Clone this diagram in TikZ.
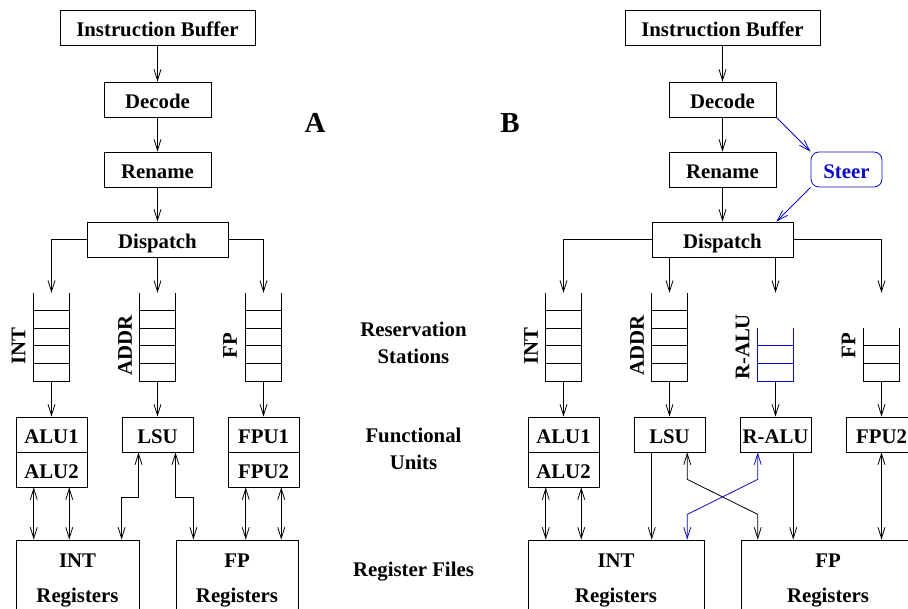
\documentclass[tikz,border=0pt]{standalone}
\usepackage{fontspec}
\setmainfont{Liberation Serif}
\usetikzlibrary{arrows.meta,calc}
\definecolor{stblue}{RGB}{10,10,200}
\newcommand\dfont{\fontsize{20.8}{24}\selectfont\bfseries}
\newcommand\rsq[4]{%
  \node[qnode] (#1) at (#2,337) {};
  \draw[qline,#4] (#2-18,{381-17.6*#3}) -- (#2-18,381) -- (#2+18,381) -- (#2+18,{381-17.6*#3});
  \pgfmathtruncatemacro\nlines{#3-1}
  \foreach \k in {1,...,\nlines}{\draw[qline,#4] (#2-18,{381-17.6*\k}) -- (#2+18,{381-17.6*\k});}
}
\tikzset{
  box/.style={draw, line width=0.8pt, inner sep=0pt, minimum height=35pt, text height=18pt, text depth=0pt, font=\dfont},
  lbl/.style={inner sep=0pt, font=\dfont},
  qnode/.style={inner sep=0pt, minimum width=36pt, minimum height=88pt},
  qline/.style={line width=0.8pt},
  arr/.style={line width=0.8pt, -{Straight Barb[length=11pt,width=7pt]}},
  dbl/.style={line width=0.8pt, {Straight Barb[length=11pt,width=7pt]}-{Straight Barb[length=11pt,width=7pt]}},
}
\begin{document}
\begin{tikzpicture}[x=1pt,y=-1pt]
\useasboundingbox (0,0) rectangle (908,609);
\clip (0,0) rectangle (908,609);

% ================= Panel A =================
\node[box, minimum width=195pt] (ibA) at (157.5,27.5) {Instruction Buffer};
\node[box, minimum width=107pt] (decA) at (157.5,99.5) {Decode};
\node[box, minimum width=107pt] (renA) at (157.5,169.5) {Rename};
\node[box, minimum width=141pt] (disA) at (157.5,239.5) {Dispatch};
\draw[arr] (ibA) -- (decA);
\draw[arr] (decA) -- (renA);
\draw[arr] (renA) -- (disA);

\rsq{qA1}{51.5}{5}{black}
\rsq{qA2}{157.5}{5}{black}
\rsq{qA3}{263.5}{5}{black}
\draw[arr] (disA.west) -| (qA1.north);
\draw[arr] (disA.south) -- (qA2.north);
\draw[arr] (disA.east) -| (qA3.north);

\node[lbl, rotate=90] (lA1) at (18.5,346.5) {INT};
\node[lbl, rotate=90] (lA2) at (125,345.5) {ADDR};
\node[lbl, rotate=90] (lA3) at (230,346) {FP};

\node[box, minimum width=71pt] (alu1A) at (51.5,434.5) {ALU1};
\node[box, minimum width=71pt] (alu2A) at (51.5,469.5) {ALU2};
\node[box, minimum width=71pt] (lsuA) at (157.5,434.5) {LSU};
\node[box, minimum width=71pt] (fpu1A) at (263.5,434.5) {FPU1};
\node[box, minimum width=71pt] (fpu2A) at (263.5,469.5) {FPU2};
\draw[arr] (qA1.south) -- (alu1A.north);
\draw[arr] (qA2.south) -- (lsuA.north);
\draw[arr] (qA3.south) -- (fpu1A.north);

\node[box, minimum width=123pt, minimum height=80pt] (irA) at (77.5,580) {};
\node[box, minimum width=122pt, minimum height=80pt] (frA) at (237,580) {};
\node[lbl, anchor=base] (irAt) at (77.5,567) {INT};
\node[lbl, anchor=base] (irAr) at (77.5,602) {Registers};
\node[lbl, anchor=base] (frAt) at (237,567) {FP};
\node[lbl, anchor=base] (frAr) at (237,602) {Registers};

\draw[dbl] ($(alu2A.south)+(-17.75,0)$) -- ($(irA.north -| alu2A.south)+(-17.75,0)$);
\draw[dbl] ($(alu2A.south)+(17.75,0)$) -- ($(irA.north -| alu2A.south)+(17.75,0)$);
\draw[dbl] ($(lsuA.south)+(-19,0)$) -- ++(0,44.5) -| (irA.north -| lsuA.west);
\draw[dbl] ($(lsuA.south)+(18,0)$) -- ++(0,44.5) -| (frA.north -| lsuA.east);
\draw[dbl] ($(fpu2A.south)+(-17.75,0)$) -- ($(frA.north -| fpu2A.south)+(-17.75,0)$);
\draw[dbl] ($(fpu2A.south)+(17.75,0)$) -- ($(frA.north -| fpu2A.south)+(17.75,0)$);

% ================= Middle labels =================
\node[lbl, anchor=base, font=\fontsize{29}{34}\selectfont\bfseries] (labA) at (315,133) {A};
\node[lbl, anchor=base, font=\fontsize{29}{34}\selectfont\bfseries] (labB) at (510,133) {B};
\node[lbl, anchor=base] (mRes) at (413.5,337) {Reservation};
\node[lbl, anchor=base] (mSta) at (413.5,363.5) {Stations};
\node[lbl, anchor=base] (mFun) at (413.5,442.5) {Functional};
\node[lbl, anchor=base] (mUni) at (413.5,470) {Units};
\node[lbl, anchor=base] (mReg) at (413.5,576.5) {Register Files};

% ================= Panel B =================
\node[box, minimum width=195pt] (ibB) at (722.5,27.5) {Instruction Buffer};
\node[box, minimum width=107pt] (decB) at (722.5,99.5) {Decode};
\node[box, minimum width=107pt] (renB) at (722.5,169.5) {Rename};
\node[box, minimum width=141pt] (disB) at (722.5,239.5) {Dispatch};
\node[box, draw=stblue, text=stblue, rounded corners=8pt, minimum width=71pt] (steer) at (846.5,169.5) {Steer};
\draw[arr] (ibB) -- (decB);
\draw[arr] (decB) -- (renB);
\draw[arr] (renB) -- (disB);
\draw[arr, stblue] (decB.south east) -- (steer.north west);
\draw[arr, stblue] (steer.south west) -- (disB.north -| decB.south east);

\rsq{qB1}{563.5}{5}{black}
\rsq{qB2}{669.5}{5}{black}
\rsq{qB3}{775.5}{3}{stblue}
\rsq{qB4}{881.5}{3}{black}
\draw[arr] (disB.west) -| (qB1.north);
\draw[arr] (disB.south -| qB2.north) -- (qB2.north);
\draw[arr] (disB.south -| qB3.north) -- (qB3.north);
\draw[arr] (disB.east) -| (qB4.north);

\node[lbl, rotate=90] (lB1) at (531,346.5) {INT};
\node[lbl, rotate=90] (lB2) at (637,345.5) {ADDR};
\node[lbl, rotate=90] (lB3) at (742.5,347) {R-ALU};
\node[lbl, rotate=90] (lB4) at (848.5,346) {FP};

\node[box, minimum width=71pt] (alu1B) at (563.5,434.5) {ALU1};
\node[box, minimum width=71pt] (alu2B) at (563.5,469.5) {ALU2};
\node[box, minimum width=71pt] (lsuB) at (669.5,434.5) {LSU};
\node[box, minimum width=71pt] (raluB) at (775.5,434.5) {R-ALU};
\node[box, minimum width=71pt] (fpu2B) at (881.5,434.5) {FPU2};
\draw[arr] (qB1.south) -- (alu1B.north);
\draw[arr] (qB2.south) -- (lsuB.north);
\draw[arr] (qB3.south) -- (raluB.north);
\draw[arr] (qB4.south) -- (fpu2B.north);

\node[box, minimum width=176pt, minimum height=80pt] (irB) at (616,580) {};
\node[box, minimum width=176pt, minimum height=80pt] (frB) at (829,580) {};
\node[lbl, anchor=base] (irBt) at (616,567) {INT};
\node[lbl, anchor=base] (irBr) at (616,602) {Registers};
\node[lbl, anchor=base] (frBt) at (828,567) {FP};
\node[lbl, anchor=base] (frBr) at (828,602) {Registers};

\draw[dbl] ($(alu2B.south)+(-17.75,0)$) -- ($(irB.north -| alu2B.south)+(-17.75,0)$);
\draw[dbl] ($(alu2B.south)+(17.75,0)$) -- ($(irB.north -| alu2B.south)+(17.75,0)$);
\draw[arr] ($(lsuB.south)+(-17.75,0)$) -- ($(irB.north -| lsuB.south)+(-17.75,0)$);
\draw[dbl] ($(lsuB.south)+(17.75,0)$) -- ++(0,27) -- ($(raluB.south)+(-17.75,62)$) -- ($(frB.north -| raluB.south)+(-17.75,0)$);
\draw[dbl, stblue] ($(raluB.south)+(-17.75,0)$) -- ++(0,27) -- ($(lsuB.south)+(17.75,62)$) -- ($(irB.north -| lsuB.south)+(17.75,0)$);
\draw[arr] ($(raluB.south)+(17.75,0)$) -- ($(frB.north -| raluB.south)+(17.75,0)$);
\draw[dbl] (fpu2B.south) -- (frB.north -| fpu2B.south);
\end{tikzpicture}
\end{document}
